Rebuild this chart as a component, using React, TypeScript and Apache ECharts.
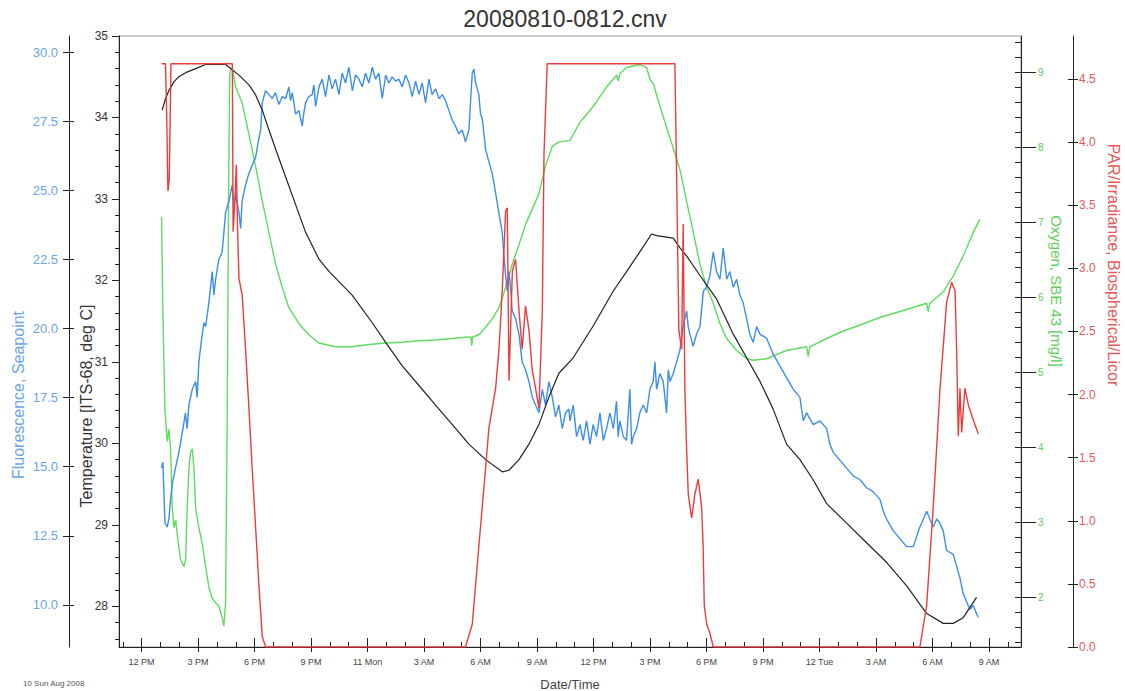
import React, { useEffect, useRef } from "react";
import * as echarts from "echarts";

// Hours after 12 PM on 10 Aug 2008, paired with the measured value.
const temperature: [number, number][] = [
  [1.09, 34.09], [1.27, 34.23], [1.45, 34.33], [1.72, 34.44], [1.98, 34.5], [2.34, 34.55], [2.87, 34.6], [3.4, 34.65],
  [3.93, 34.65], [4.46, 34.65], [4.73, 34.6], [5.17, 34.52], [5.7, 34.4], [6.05, 34.28], [6.41, 34.09], [6.76, 33.85],
  [7.12, 33.61], [7.65, 33.27], [8.18, 32.93], [8.71, 32.59], [9.42, 32.26], [9.95, 32.11], [11.18, 31.82], [12.25, 31.48],
  [12.96, 31.24], [13.84, 30.95], [14.73, 30.71], [15.61, 30.47], [16.5, 30.23], [17.38, 29.99], [18.27, 29.8], [19.15, 29.65],
  [19.51, 29.67], [20.04, 29.8], [20.57, 29.99], [21.1, 30.23], [21.63, 30.57], [22.16, 30.86], [22.92, 31.05], [23.98, 31.44],
  [25.05, 31.87], [25.76, 32.11], [26.46, 32.35], [27.08, 32.57], [27.35, 32.55], [28.23, 32.52], [28.59, 32.4], [28.94, 32.3],
  [29.65, 32.06], [30.54, 31.77], [31.42, 31.34], [32.13, 31.05], [32.84, 30.76], [33.54, 30.42], [34.25, 29.99], [34.96, 29.8],
  [35.67, 29.55], [36.38, 29.26], [37.44, 29.02], [38.5, 28.78], [39.56, 28.54], [40.63, 28.25], [41.69, 27.91], [42.57, 27.79],
  [43.1, 27.79], [43.63, 27.86], [44.34, 28.11],
];

const fluorescence: [number, number][] = [
  [1.06, 14.95], [1.13, 15.17], [1.24, 12.97], [1.36, 12.82], [1.45, 13.11], [1.54, 13.82], [1.63, 14.39], [1.8, 14.95],
  [1.98, 15.52], [2.16, 16.23], [2.33, 16.95], [2.42, 16.38], [2.51, 17.23], [2.69, 17.8], [2.87, 18.08], [2.95, 17.51],
  [3.04, 18.79], [3.22, 19.79], [3.31, 20.21], [3.4, 20.07], [3.57, 20.92], [3.75, 22.06], [3.84, 21.21], [3.93, 21.78],
  [4.1, 22.49], [4.28, 22.77], [4.37, 23.48], [4.46, 24.19], [4.64, 24.62], [4.81, 25.19], [4.9, 24.34], [4.99, 24.9],
  [5.17, 24.19], [5.26, 23.62], [5.34, 24.62], [5.52, 25.19], [5.7, 25.61], [5.87, 25.9], [6.05, 26.18], [6.23, 26.89],
  [6.32, 27.18], [6.41, 28.17], [6.58, 28.6], [6.76, 28.46], [6.94, 28.32], [7.11, 28.53], [7.29, 28.1], [7.47, 28.39],
  [7.65, 28.32], [7.82, 28.74], [7.91, 28.24], [8.0, 28.53], [8.18, 27.75], [8.35, 27.89], [8.53, 27.32], [8.62, 27.82],
  [8.71, 28.17], [8.88, 28.39], [9.06, 28.46], [9.15, 28.81], [9.24, 28.03], [9.42, 28.74], [9.59, 29.02], [9.77, 28.39],
  [9.95, 29.17], [10.12, 28.67], [10.3, 29.02], [10.48, 28.46], [10.65, 29.24], [10.83, 28.88], [11.01, 29.45], [11.19, 28.6],
  [11.36, 29.17], [11.54, 29.02], [11.72, 28.74], [11.89, 29.24], [12.07, 28.88], [12.25, 29.45], [12.42, 29.02], [12.6, 29.24],
  [12.78, 28.32], [12.96, 29.17], [13.13, 28.88], [13.31, 29.1], [13.49, 28.95], [13.66, 29.02], [13.84, 28.74], [14.02, 29.17],
  [14.2, 28.88], [14.37, 28.39], [14.55, 28.95], [14.73, 28.46], [14.9, 28.88], [15.08, 28.17], [15.26, 29.02], [15.43, 28.46],
  [15.61, 28.67], [15.79, 28.32], [15.97, 28.46], [16.14, 28.24], [16.32, 27.89], [16.5, 27.53], [16.67, 27.32], [16.85, 27.04],
  [17.03, 27.18], [17.2, 26.75], [17.38, 27.18], [17.56, 29.24], [17.65, 29.38], [17.74, 28.88], [17.91, 28.46], [18.0, 27.75],
  [18.09, 27.6], [18.27, 26.47], [18.44, 26.04], [18.62, 25.61], [18.8, 24.9], [18.97, 24.19], [19.15, 23.48], [19.24, 22.63],
  [19.33, 21.92], [19.42, 21.35], [19.51, 22.06], [19.59, 21.49], [19.68, 20.64], [19.86, 20.36], [20.04, 19.79], [20.21, 18.79],
  [20.39, 18.51], [20.57, 18.08], [20.75, 17.51], [20.92, 17.23], [21.1, 16.95], [21.28, 17.8], [21.45, 17.23], [21.63, 18.08],
  [21.81, 17.51], [21.98, 16.8], [22.16, 17.23], [22.34, 16.38], [22.51, 16.95], [22.69, 17.09], [22.75, 16.66], [22.92, 17.23],
  [23.1, 16.09], [23.28, 16.52], [23.45, 15.95], [23.63, 16.66], [23.81, 15.81], [23.98, 16.52], [24.16, 16.09], [24.34, 16.95],
  [24.52, 15.95], [24.69, 16.38], [24.87, 16.95], [25.05, 16.38], [25.22, 17.37], [25.31, 16.09], [25.4, 16.66], [25.58, 16.09],
  [25.75, 15.95], [25.93, 17.8], [26.02, 15.81], [26.11, 16.09], [26.29, 16.38], [26.46, 16.95], [26.64, 17.23], [26.82, 16.95],
  [26.99, 17.8], [27.17, 18.08], [27.26, 18.79], [27.35, 17.8], [27.52, 18.37], [27.7, 18.08], [27.88, 16.95], [27.97, 18.51],
  [28.06, 18.08], [28.23, 18.37], [28.41, 18.79], [28.59, 19.22], [28.76, 20.07], [28.94, 20.64], [29.03, 20.07], [29.12, 19.79],
  [29.29, 19.36], [29.47, 19.79], [29.65, 20.07], [29.83, 21.35], [30.0, 21.49], [30.18, 21.92], [30.36, 22.77], [30.53, 22.06],
  [30.71, 21.78], [30.89, 22.91], [31.07, 21.78], [31.24, 22.06], [31.42, 21.49], [31.6, 21.78], [31.77, 21.21], [31.95, 20.92],
  [32.13, 20.36], [32.3, 19.79], [32.48, 19.5], [32.66, 20.07], [32.84, 19.79], [33.19, 19.65], [33.54, 19.07], [33.9, 18.65],
  [34.25, 18.22], [34.61, 17.8], [34.96, 17.51], [35.14, 16.66], [35.31, 16.95], [35.67, 16.52], [36.02, 16.66], [36.38, 16.38],
  [36.55, 15.81], [36.73, 15.52], [37.08, 15.24], [37.44, 14.95], [37.79, 14.67], [38.15, 14.53], [38.5, 14.24], [38.85, 14.1],
  [39.21, 13.82], [39.39, 13.39], [39.56, 13.11], [39.92, 12.68], [40.27, 12.4], [40.62, 12.11], [40.98, 12.11], [41.33, 12.82],
  [41.69, 13.39], [41.86, 13.11], [42.04, 12.82], [42.22, 13.11], [42.39, 12.97], [42.57, 12.68], [42.75, 11.97], [43.1, 11.83],
  [43.46, 10.97], [43.63, 10.41], [43.81, 10.12], [43.99, 9.84], [44.16, 9.98], [44.43, 9.55],
];

const oxygen: [number, number][] = [
  [1.06, 7.07], [1.13, 5.81], [1.24, 4.5], [1.36, 4.08], [1.45, 4.24], [1.54, 3.98], [1.63, 3.19], [1.72, 2.93],
  [1.81, 3.03], [1.95, 2.72], [2.07, 2.51], [2.25, 2.41], [2.34, 2.51], [2.42, 3.19], [2.51, 3.72], [2.6, 3.93],
  [2.69, 3.98], [2.78, 3.72], [2.87, 3.19], [3.04, 2.93], [3.22, 2.72], [3.4, 2.41], [3.57, 2.14], [3.75, 1.99],
  [3.93, 1.93], [4.11, 1.88], [4.28, 1.73], [4.37, 1.62], [4.46, 1.93], [4.55, 4.5], [4.62, 7.38], [4.68, 8.96],
  [4.73, 9.03], [4.81, 9.06], [4.99, 8.8], [5.34, 8.59], [5.7, 8.17], [6.05, 7.75], [6.41, 7.28], [6.76, 6.86],
  [7.12, 6.44], [7.47, 6.13], [7.82, 5.86], [8.35, 5.65], [8.88, 5.5], [9.42, 5.39], [10.3, 5.34], [11.18, 5.34],
  [12.07, 5.37], [12.96, 5.39], [13.84, 5.4], [14.73, 5.42], [15.61, 5.43], [16.5, 5.45], [17.38, 5.47], [17.49, 5.47],
  [17.53, 5.35], [17.58, 5.47], [17.91, 5.5], [18.27, 5.6], [18.62, 5.71], [18.98, 5.86], [19.33, 6.13], [19.68, 6.44],
  [20.04, 6.7], [20.39, 6.97], [20.74, 7.17], [21.1, 7.38], [21.45, 7.75], [21.81, 8.01], [22.16, 8.07], [22.75, 8.09],
  [23.28, 8.33], [23.98, 8.54], [24.69, 8.8], [25.23, 8.96], [25.31, 8.88], [25.4, 8.98], [25.76, 9.06], [26.46, 9.1],
  [26.82, 9.06], [27.0, 8.9], [27.17, 8.85], [27.53, 8.54], [28.06, 8.12], [28.59, 7.7], [28.94, 7.28], [29.3, 6.86],
  [29.65, 6.44], [30.01, 6.13], [30.36, 5.92], [30.71, 5.65], [31.07, 5.45], [31.6, 5.29], [32.13, 5.18], [32.48, 5.16],
  [33.19, 5.18], [34.25, 5.29], [35.32, 5.34], [35.4, 5.21], [35.49, 5.34], [36.38, 5.45], [37.26, 5.55], [38.15, 5.63],
  [39.21, 5.73], [40.27, 5.81], [41.33, 5.89], [41.69, 5.92], [41.77, 5.81], [41.86, 5.92], [42.57, 6.07], [43.1, 6.28],
  [43.63, 6.55], [44.16, 6.86], [44.52, 7.04],
];

const irradiance: [number, number][] = [
  [1.06, 4.62], [1.27, 4.62], [1.33, 4.23], [1.4, 3.61], [1.47, 3.7], [1.56, 4.62], [4.73, 4.62], [4.82, 4.62],
  [4.86, 3.29], [4.95, 3.51], [5.03, 3.82], [5.1, 3.29], [5.17, 2.92], [5.34, 2.79], [5.52, 2.36], [5.7, 1.89],
  [5.87, 1.42], [6.05, 0.96], [6.23, 0.49], [6.41, 0.08], [6.59, 0], [17.2, 0], [17.56, 0.18], [17.91, 0.8],
  [18.27, 1.42], [18.44, 1.73], [18.8, 2.05], [18.98, 2.36], [19.15, 2.82], [19.33, 3.45], [19.42, 3.48], [19.51, 2.11],
  [19.69, 2.98], [19.86, 3.07], [20.04, 2.67], [20.21, 2.36], [20.39, 2.7], [20.57, 2.51], [20.74, 2.2], [20.92, 2.05],
  [21.1, 1.89], [21.28, 2.67], [21.37, 3.91], [21.54, 4.62], [28.32, 4.62], [28.41, 3.76], [28.53, 2.51], [28.68, 2.36],
  [28.76, 3.35], [28.85, 2.05], [28.94, 1.58], [29.03, 1.21], [29.21, 1.02], [29.38, 1.21], [29.56, 1.33], [29.74, 1.11],
  [29.82, 0.8], [29.88, 0.33], [30.01, 0.18], [30.18, 0.11], [30.36, 0], [41.33, 0], [41.69, 0.33], [42.04, 1.11],
  [42.4, 2.05], [42.75, 2.73], [43.02, 2.89], [43.2, 2.82], [43.28, 2.36], [43.37, 1.67], [43.46, 2.05], [43.55, 1.7],
  [43.72, 2.05], [43.9, 1.92], [44.16, 1.8], [44.43, 1.69],
];

// Axis tick labels
const timeLabels = [
  "12 PM", "3 PM", "6 PM", "9 PM", "11 Mon", "3 AM", "6 AM", "9 AM",
  "12 PM", "3 PM", "6 PM", "9 PM", "12 Tue", "3 AM", "6 AM", "9 AM",
];
const temperatureTicks = [28, 29, 30, 31, 32, 33, 34, 35];
const fluorescenceTicks = [10, 12.5, 15, 17.5, 20, 22.5, 25, 27.5, 30];
const oxygenTicks = [2, 3, 4, 5, 6, 7, 8, 9];
const irradianceTicks = [0, 0.5, 1, 1.5, 2, 2.5, 3, 3.5, 4, 4.5];

const X_MIN = -1.2;
const X_MAX = 46.7;

const steps = (from: number, to: number, step: number) => {
  const out: number[] = [];
  for (let v = from; v <= to + 1e-9; v += step) out.push(Math.round(v * 100) / 100);
  return out;
};

const FONT = "'Liberation Sans', Arial, sans-serif";
const BLUE = "#3d8ee8";
const GREEN = "#5fdc5f";
const RED = "#ee3b3b";
const BLACK = "#222";

export default function App() {
  const ref = useRef<HTMLDivElement>(null);

  useEffect(() => {
    if (!ref.current) return;
    const chart = echarts.init(ref.current, undefined, { renderer: "svg" });

    const majorHours = timeLabels.map((_, i) => i * 3);
    const allHours = steps(-1, 46, 1);

    const line = { onZero: false, lineStyle: { color: BLACK, width: 1 } };
    const noLine = { show: false, onZero: false };
    const baseX = { type: "value", min: X_MIN, max: X_MAX, position: "bottom", splitLine: { show: false } };

    const option: any = {
      animation: false,
      backgroundColor: "#fff",
      textStyle: { fontFamily: FONT },
      grid: { left: 119, right: 104, top: 36, bottom: 44, show: true, borderColor: "#999", borderWidth: 1 },
      xAxis: [
        {
          ...baseX,
          axisLine: line,
          axisTick: { customValues: majorHours, length: 5, lineStyle: { color: BLACK } },
          axisLabel: {
            customValues: majorHours,
            formatter: (v: number) => timeLabels[Math.round(v / 3)] ?? "",
            fontSize: 9,
            color: "#444",
            margin: 10,
          },
        },
        {
          ...baseX,
          axisLine: noLine,
          axisTick: { customValues: allHours, inside: true, length: 5, lineStyle: { color: BLACK } },
          axisLabel: { show: false },
        },
        {
          ...baseX,
          axisLine: noLine,
          axisTick: { customValues: majorHours, inside: true, length: 9, lineStyle: { color: BLACK } },
          axisLabel: { show: false },
        },
      ],
      yAxis: [
        {
          type: "value", position: "left", offset: 0, min: 27.5, max: 35,
          axisLine: line, splitLine: { show: false },
          axisTick: { customValues: temperatureTicks, length: 7, lineStyle: { color: BLACK } },
          axisLabel: { customValues: temperatureTicks, fontSize: 12, color: "#333", margin: 11 },
        },
        {
          type: "value", position: "left", offset: 50, min: 8.48, max: 30.58,
          axisLine: line, splitLine: { show: false },
          axisTick: { customValues: fluorescenceTicks, length: 6, lineStyle: { color: BLACK } },
          axisLabel: {
            customValues: fluorescenceTicks, fontSize: 13, color: "#6aa6ea", margin: 11,
            formatter: (v: number) => v.toFixed(1),
          },
        },
        {
          type: "value", position: "right", offset: 0, min: 1.34, max: 9.48,
          axisLine: line, splitLine: { show: false },
          axisTick: { customValues: oxygenTicks, length: 15, lineStyle: { color: BLACK } },
          axisLabel: { customValues: oxygenTicks, fontSize: 10, color: "#5ccf5c", margin: 17 },
        },
        {
          type: "value", position: "right", offset: 52, min: 0, max: 4.84,
          axisLine: line, splitLine: { show: false },
          axisTick: { customValues: irradianceTicks, length: 5, lineStyle: { color: BLACK } },
          axisLabel: {
            customValues: irradianceTicks, fontSize: 12, color: "#e65a5a", margin: 6,
            formatter: (v: number) => v.toFixed(1),
          },
        },
        // minor / inward tick marks
        {
          type: "value", position: "left", offset: 0, min: 27.5, max: 35,
          axisLine: noLine, splitLine: { show: false }, axisLabel: { show: false },
          axisTick: { customValues: steps(27.6, 35, 0.2), length: 4, lineStyle: { color: BLACK } },
        },
        {
          type: "value", position: "right", offset: 0, min: 1.34, max: 9.48,
          axisLine: noLine, splitLine: { show: false }, axisLabel: { show: false },
          axisTick: { customValues: steps(1.4, 9.4, 0.2), inside: true, length: 6, lineStyle: { color: BLACK } },
        },
        {
          type: "value", position: "right", offset: 52, min: 0, max: 4.84,
          axisLine: noLine, splitLine: { show: false }, axisLabel: { show: false },
          axisTick: { customValues: irradianceTicks, inside: true, length: 5, lineStyle: { color: BLACK } },
        },
        {
          type: "value", position: "left", offset: 50, min: 8.48, max: 30.58,
          axisLine: noLine, splitLine: { show: false }, axisLabel: { show: false },
          axisTick: { customValues: fluorescenceTicks, inside: true, length: 5, lineStyle: { color: BLACK } },
        },
      ],
      series: [
        { name: "Oxygen", type: "line", xAxisIndex: 0, yAxisIndex: 2, data: oxygen, showSymbol: false, symbol: "none", lineStyle: { color: GREEN, width: 1.4 } },
        { name: "Fluorescence", type: "line", xAxisIndex: 0, yAxisIndex: 1, data: fluorescence, showSymbol: false, symbol: "none", lineStyle: { color: BLUE, width: 1.4 } },
        { name: "Temperature", type: "line", xAxisIndex: 0, yAxisIndex: 0, data: temperature, showSymbol: false, symbol: "none", lineStyle: { color: BLACK, width: 1.2 } },
        { name: "PAR", type: "line", xAxisIndex: 0, yAxisIndex: 3, data: irradiance, showSymbol: false, symbol: "none", lineStyle: { color: RED, width: 1.4 } },
      ],
      graphic: [
        { type: "text", x: 565, y: 19, style: { text: "20080810-0812.cnv", fontSize: 23, fontFamily: FONT, fill: "#333", align: "center", verticalAlign: "middle" } },
        { type: "text", x: 18, y: 395, rotation: Math.PI / 2, style: { text: "Fluorescence, Seapoint", fontSize: 16, fontFamily: FONT, fill: "#6aa6ea", align: "center", verticalAlign: "middle" } },
        { type: "text", x: 86, y: 406, rotation: Math.PI / 2, style: { text: "Temperature [ITS-68, deg C]", fontSize: 16, fontFamily: FONT, fill: "#333", align: "center", verticalAlign: "middle" } },
        { type: "text", x: 1056, y: 291, rotation: -Math.PI / 2, style: { text: "Oxygen, SBE 43 [mg/l]", fontSize: 15, fontFamily: FONT, fill: "#5ccf5c", align: "center", verticalAlign: "middle" } },
        { type: "text", x: 1113, y: 265, rotation: -Math.PI / 2, style: { text: "PAR/Irradiance, Biospherical/Licor", fontSize: 16, fontFamily: FONT, fill: "#e65a5a", align: "center", verticalAlign: "middle" } },
        { type: "text", x: 570, y: 684, style: { text: "Date/Time", fontSize: 13, fontFamily: FONT, fill: "#444", align: "center", verticalAlign: "middle" } },
        { type: "text", x: 23, y: 683, style: { text: "10 Sun Aug 2008", fontSize: 8, fontFamily: FONT, fill: "#555", align: "left", verticalAlign: "middle" } },
      ],
    };

    chart.setOption(option);
    return () => chart.dispose();
  }, []);

  return (
    <div
      ref={ref}
      style={{ position: "fixed", left: 0, top: 0, width: 1125, height: 691, background: "#fff" }}
    />
  );
}
